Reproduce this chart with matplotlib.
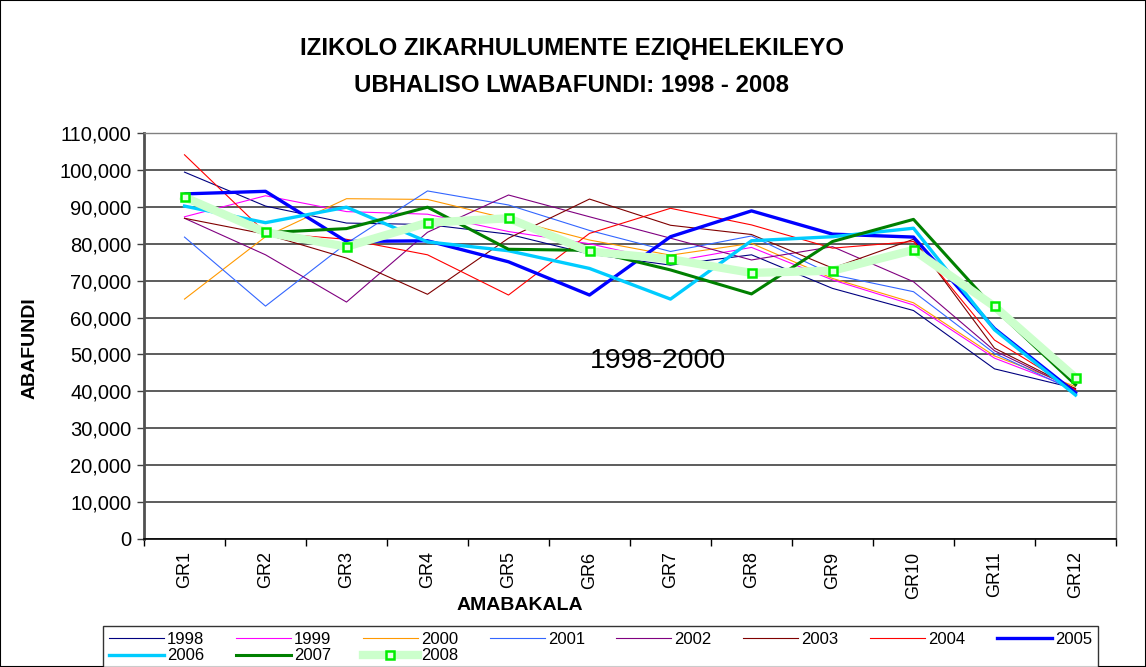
import numpy as np
import matplotlib
matplotlib.use("Agg")
import matplotlib.pyplot as plt
from matplotlib.ticker import StrMethodFormatter, FixedLocator
from matplotlib.patches import Rectangle

plt.rcParams['font.family'] = ['Liberation Sans', 'DejaVu Sans']

grades = ["GR1", "GR2", "GR3", "GR4", "GR5", "GR6", "GR7", "GR8", "GR9", "GR10", "GR11", "GR12"]

y1998 = [99400, 90200, 85600, 85200, 82600, 77200, 74200, 77000, 67900, 61900, 46100, 40800]
y1999 = [87300, 93000, 88700, 88000, 83300, 80000, 75100, 79000, 70200, 63400, 49000, 40600]
y2000 = [65000, 81900, 92200, 92000, 86700, 81000, 76900, 80100, 70600, 64000, 49600, 41300]
y2001 = [81800, 63100, 80100, 94300, 90500, 83600, 77900, 82100, 71600, 67000, 50300, 40000]
y2002 = [86900, 77000, 64200, 83100, 93200, 87300, 81500, 75600, 79200, 69700, 51000, 40500]
y2003 = [86900, 82600, 76100, 66300, 81500, 92100, 85000, 82500, 73400, 81200, 51700, 40700]
y2004 = [104100, 83000, 81200, 77000, 66100, 82800, 89600, 85100, 78800, 80600, 53900, 40400]
y2005 = [93500, 94200, 80600, 80800, 75100, 66100, 81900, 88900, 82600, 81800, 57000, 39600]
y2006 = [90200, 85700, 89900, 80500, 78100, 73300, 65000, 80800, 81900, 84200, 56700, 39000]
y2007 = [np.nan, 83000, 84100, 89900, 78500, 78200, 72900, 66400, 80600, 86600, 62400, 41800]
y2008 = [92600, 83100, 79200, 85700, 86900, 77900, 75800, 72100, 72700, 78300, 63000, 43700]

years = ["1998", "1999", "2000", "2001", "2002", "2003", "2004", "2005", "2006", "2007", "2008"]
series = [y1998, y1999, y2000, y2001, y2002, y2003, y2004, y2005, y2006, y2007, y2008]

colors = ["#000080", "#FF00FF", "#FF9900", "#3366FF", "#800080", "#800000",
          "#FF0000", "#0000FF", "#00CCFF", "#008000", "#CCFFCC"]
widths = [0.8, 0.8, 0.8, 0.8, 0.8, 0.8, 0.8, 2.4, 2.4, 2.2, 6.0]

fig = plt.figure(figsize=(11.46, 6.67), dpi=100)
ax = fig.add_axes([144/1146, 1-539/667, (1116-144)/1146, (539-133)/667])

x = np.arange(len(grades))
handles = {}
for yr, vals, c, lw in zip(years, series, colors, widths):
    if yr == "2008":
        h, = ax.plot(x, vals, color=c, lw=lw, marker='s', ms=5.2,
                     mfc='#E8FFE8', mec='#00EE00', mew=1.8, label=yr, zorder=5)
    else:
        h, = ax.plot(x, vals, color=c, lw=lw, label=yr, zorder=3)
    handles[yr] = h

ax.set_xlim(-0.5, len(grades) - 0.5)
ax.set_ylim(0, 110000)
ax.set_yticks(np.arange(0, 110001, 10000))
ax.yaxis.set_major_formatter(StrMethodFormatter('{x:,.0f}'))
ax.set_xticks(x)
ax.set_xticklabels(grades, rotation=90, fontsize=13, va='top')
ax.xaxis.set_minor_locator(FixedLocator(np.arange(-0.5, len(grades), 1.0)))
ax.tick_params(axis='x', which='major', length=0, pad=9)
ax.tick_params(axis='x', which='minor', length=5, width=1, color='black', direction='out')
ax.tick_params(axis='y', which='major', length=5, width=1, color='#404040', labelsize=14.5, pad=4)

ax.grid(axis='y', color='#303030', lw=1.1, zorder=1)
ax.set_axisbelow(True)
for s in ['top', 'right']:
    ax.spines[s].set_color('#808080')
    ax.spines[s].set_linewidth(1.0)
ax.spines['left'].set_color('#505050')
ax.spines['left'].set_linewidth(2.0)
ax.spines['bottom'].set_color('black')
ax.spines['bottom'].set_linewidth(1.2)

ax.text(5.85, 48200, "1998-2000", fontsize=20.5, ha='center', va='center', color='black')

fig.text(572/1146, 1-48/667, "IZIKOLO ZIKARHULUMENTE EZIQHELEKILEYO", fontsize=17.3,
         fontweight='bold', ha='center', va='center')
fig.text(572/1146, 1-85/667, "UBHALISO LWABAFUNDI: 1998 - 2008", fontsize=17.3,
         fontweight='bold', ha='center', va='center')
fig.text(30/1146, 1-348/667, "ABAFUNDI", fontsize=14, fontweight='bold',
         rotation=90, ha='center', va='center')
fig.text(520/1146, 1-605/667, "AMABAKALA", fontsize=14, fontweight='bold',
         ha='center', va='center')

order = ["1998", "2006", "1999", "2007", "2000", "2008", "2001", "2002", "2003", "2004", "2005"]
leg = fig.legend([handles[k] for k in order], order, loc='upper left',
                 bbox_to_anchor=(103/1146, 1-626/667, (1098-103)/1146, 0.0),
                 mode='expand', ncol=8, fontsize=12, handlelength=3.3,
                 handletextpad=0.2, labelspacing=0.1, borderpad=0.35,
                 frameon=True, fancybox=False, borderaxespad=0)
leg.get_frame().set_edgecolor('black')
leg.get_frame().set_linewidth(1.0)

fig.patches.append(Rectangle((0, 0), 1, 1, transform=fig.transFigure, fill=False,
                             edgecolor='black', lw=1.5))

fig.savefig("out.png", dpi=100)
